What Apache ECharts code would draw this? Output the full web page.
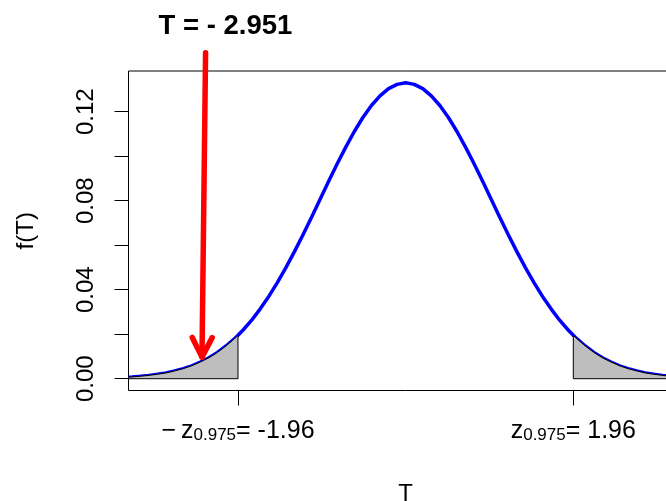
<!DOCTYPE html>
<html><head><meta charset="utf-8">
<script src="https://cdn.jsdelivr.net/npm/echarts@6/dist/echarts.min.js"></script>
<style>html,body{margin:0;padding:0;background:#fff;overflow:hidden}#c{width:700px;height:501px}</style>
</head><body><div id="c"></div>
<script>
// Curve points (T, f(T))
const tValues = [-3.24,-3.2,-3.1,-3.0,-2.9,-2.8,-2.7,-2.6,-2.5,-2.4,-2.3,-2.2,-2.1,-2.0,-1.96,-1.9,-1.8,-1.7,-1.6,-1.5,-1.4,-1.3,-1.2,-1.1,-1.0,-0.9,-0.8,-0.7,-0.6,-0.5,-0.4,-0.3,-0.2,-0.1,0,
  0.1,0.2,0.3,0.4,0.5,0.6,0.7,0.8,0.9,1.0,1.1,1.2,1.3,1.4,1.5,1.6,1.7,1.8,1.9,1.96,2.0,2.1,2.2,2.3,2.4,2.5,2.6,2.7,2.8,2.9,3.0,3.1,3.2,3.24];
const fValues = [0.0007,0.0008,0.0011,0.0015,0.0020,0.0026,0.0035,0.0045,0.0058,0.0075,0.0094,0.0118,0.0147,0.0180,0.0195,0.0219,0.0263,0.0314,0.0370,0.0432,0.0499,0.0571,0.0647,0.0726,0.0807,0.0887,0.0966,0.1041,0.1111,0.1174,0.1228,0.1271,0.1304,0.1323,0.1330,
  0.1323,0.1304,0.1271,0.1228,0.1174,0.1111,0.1041,0.0966,0.0887,0.0807,0.0726,0.0647,0.0571,0.0499,0.0432,0.0370,0.0314,0.0263,0.0219,0.0195,0.0180,0.0147,0.0118,0.0094,0.0075,0.0058,0.0045,0.0035,0.0026,0.0020,0.0015,0.0011,0.0008,0.0007];
const critValues = [-1.96, 1.96];
const yTickValues = [0, 0.02, 0.04, 0.06, 0.08, 0.10, 0.12];
const yLabelValues = [0, 0.04, 0.08, 0.12];
const titleText = 'T = - 2.951';
const arrowStart = [-2.339, 0.1465];
const arrowEnd = [-2.381, 0.0097];

const curve = tValues.map((t, i) => [t, fValues[i]]);
const tMin = tValues[0], tMax = tValues[tValues.length - 1];
const leftTail = [[tMin, 0]].concat(curve.filter(p => p[0] <= critValues[0])).concat([[critValues[0], 0]]);
const rightTail = [[critValues[1], 0]].concat(curve.filter(p => p[0] >= critValues[1])).concat([[tMax, 0]]);

function polySeries(pts) {
  return {
    type: 'custom', z: 5, silent: true, clip: false,
    data: [0],
    renderItem: function (params, api) {
      const points = pts.map(p => api.coord(p));
      return { type: 'polygon', shape: { points: points },
        style: { fill: '#BEBEBE', stroke: '#000', lineWidth: 1 } };
    }
  };
}

const chart = echarts.init(document.getElementById('c'), null, { renderer: 'canvas' });
const FONT = '"Liberation Sans", Arial, Helvetica, sans-serif';
chart.setOption({
  animation: false,
  backgroundColor: '#fff',
  grid: { left: 128.5, top: 71, width: 554.3, height: 319.5, show: true, borderColor: '#000', borderWidth: 1,
    backgroundColor: 'transparent', containLabel: false, outerBoundsMode: 'none' },
  xAxis: {
    type: 'value', min: tMin, max: tMax,
    name: 'T', nameLocation: 'middle', nameGap: 92,
    nameTextStyle: { fontSize: 24, color: '#000', fontFamily: FONT },
    axisLine: { show: false, onZero: false },
    splitLine: { show: false },
    axisTick: { show: true, length: 15, lineStyle: { color: '#000', width: 1 }, customValues: critValues },
    axisLabel: {
      customValues: critValues, margin: 23, color: '#000', fontFamily: FONT,
      formatter: function (v) {
        return v < 0 ? '{m|\u2212\u2009z}{s|0.975}{m|= ' + v + '}' : '{m|z}{s|0.975}{m|= ' + v + '}';
      },
      rich: {
        m: { fontSize: 25, lineHeight: 30, verticalAlign: 'bottom', fontFamily: FONT, color: '#000' },
        s: { fontSize: 17, lineHeight: 17, verticalAlign: 'bottom', fontFamily: FONT, color: '#000' }
      }
    }
  },
  yAxis: {
    type: 'value', min: -0.0053, max: 0.1383,
    name: 'f(T)', nameLocation: 'middle', nameGap: 90, nameRotate: 90,
    nameTextStyle: { fontSize: 24, color: '#000', fontFamily: FONT },
    axisLine: { show: false, onZero: false },
    splitLine: { show: false },
    axisTick: { show: true, length: 14, lineStyle: { color: '#000', width: 1 }, customValues: yTickValues },
    axisLabel: {
      customValues: yLabelValues, rotate: 90, margin: 30, fontSize: 24, color: '#000', fontFamily: FONT,
      formatter: function (v) { return v.toFixed(2); }
    }
  },
  series: [
    { type: 'line', data: curve, showSymbol: false, symbol: 'none', z: 3, clip: true,
      lineStyle: { color: '#0000FF', width: 3.5 } },
    polySeries(leftTail),
    polySeries(rightTail)
  ]
});

const p0 = chart.convertToPixel({ gridIndex: 0 }, arrowStart);
const p1 = chart.convertToPixel({ gridIndex: 0 }, arrowEnd);
const ang = Math.atan2(p1[1] - p0[1], p1[0] - p0[0]);
const headLen = 22, headAng = Math.PI / 180 * 27;
const w1 = [p1[0] - headLen * Math.cos(ang - headAng), p1[1] - headLen * Math.sin(ang - headAng)];
const w2 = [p1[0] - headLen * Math.cos(ang + headAng), p1[1] - headLen * Math.sin(ang + headAng)];
chart.setOption({
  graphic: [
    { type: 'line', z: 100, shape: { x1: p0[0], y1: p0[1], x2: p1[0], y2: p1[1] },
      style: { stroke: '#FF0000', lineWidth: 5.5, lineCap: 'round' } },
    { type: 'polyline', z: 100, shape: { points: [w1, p1, w2] },
      style: { stroke: '#FF0000', lineWidth: 5.5, lineCap: 'round', lineJoin: 'round', fill: null } },
    { type: 'text', z: 100, x: 225.5, y: 26,
      style: { text: titleText, fontSize: 27.5, fontWeight: 'bold', fontFamily: FONT, fill: '#000',
        textAlign: 'center', textVerticalAlign: 'middle' } }
  ]
});
</script></body></html>
